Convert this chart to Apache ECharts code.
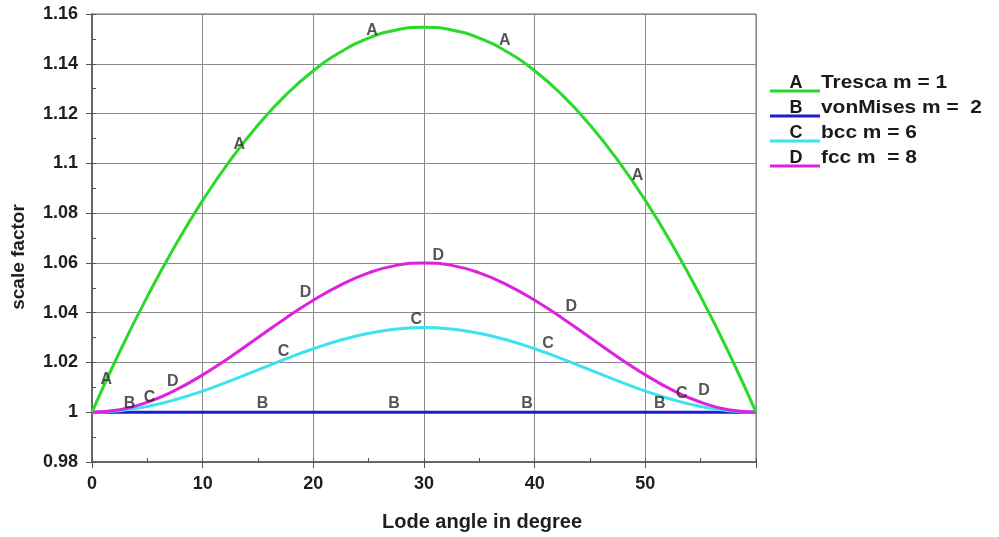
<!DOCTYPE html>
<html>
<head>
<meta charset="utf-8">
<script src="https://cdn.jsdelivr.net/npm/echarts@6/dist/echarts.min.js"></script>
<style>
  html, body { margin: 0; padding: 0; background: #fff; }
  #main { width: 999px; height: 537px; }
</style>
</head>
<body>
<div id="main"></div>
<script>
var myChart = echarts.init(document.getElementById('main'));

// lode angle (degree)
let angles = [0, 2.5, 5, 7.5, 10, 12.5, 15, 17.5, 20, 22.5, 25, 27.5, 30,
              32.5, 35, 37.5, 40, 42.5, 45, 47.5, 50, 52.5, 55, 57.5, 60];

let tresca = [1.0000, 1.0243, 1.0465, 1.0668, 1.0851, 1.1013, 1.1154, 1.1274, 1.1372, 1.1448, 1.1503, 1.1536, 1.1547,
              1.1536, 1.1503, 1.1448, 1.1372, 1.1274, 1.1154, 1.1013, 1.0851, 1.0668, 1.0465, 1.0243, 1.0000];
let vonMises = [1, 1, 1, 1, 1, 1, 1, 1, 1, 1, 1, 1, 1,
                1, 1, 1, 1, 1, 1, 1, 1, 1, 1, 1, 1];
let bcc = [1.0000, 1.0006, 1.0023, 1.0050, 1.0085, 1.0126, 1.0170, 1.0214, 1.0255, 1.0290, 1.0317, 1.0334, 1.0340,
           1.0334, 1.0317, 1.0290, 1.0255, 1.0214, 1.0170, 1.0126, 1.0085, 1.0050, 1.0023, 1.0006, 1.0000];
let fcc = [1.0000, 1.0010, 1.0040, 1.0088, 1.0150, 1.0222, 1.0300, 1.0378, 1.0450, 1.0512, 1.0560, 1.0590, 1.0600,
           1.0590, 1.0560, 1.0512, 1.0450, 1.0378, 1.0300, 1.0222, 1.0150, 1.0088, 1.0040, 1.0010, 1.0000];

// letter marks along the curves [angle, value]
let marksA = [[1.3, 1.013], [13.3, 1.1074], [25.3, 1.1532], [37.3, 1.1492], [49.3, 1.0949]];
let marksB = [[3.4, 1.0033], [15.4, 1.0033], [27.3, 1.0033], [39.3, 1.0033], [51.3, 1.0033]];
let marksC = [[5.2, 1.0057], [17.3, 1.0242], [29.3, 1.0371], [41.2, 1.0274], [53.3, 1.0073]];
let marksD = [[7.3, 1.0125], [19.3, 1.0479], [31.3, 1.0628], [43.3, 1.0423], [55.3, 1.0085]];

let names = ['Tresca m = 1', 'vonMises m =  2', 'bcc m = 6', 'fcc m  = 8'];
let letters = ['A', 'B', 'C', 'D'];
let colors = ['#2bd92b', '#1c1cd0', '#3ae3ef', '#dd22dd'];

function pairs(ys) {
  return angles.map(function (a, i) { return [a, ys[i]]; });
}

function curve(ys, c) {
  return {
    type: 'line', data: pairs(ys), smooth: true, showSymbol: false,
    lineStyle: { color: c, width: 3 }, silent: true
  };
}

function letterSeries(pts, t) {
  return {
    type: 'scatter', data: pts, symbolSize: 1, itemStyle: { color: 'rgba(0,0,0,0)' },
    label: { show: true, position: 'inside', formatter: t, color: '#2a2a2a',
             fontFamily: 'Liberation Sans', fontWeight: 'bold', fontSize: 16 },
    silent: true, z: 5
  };
}

// legend drawn at right
let legendGraphic = [];
[0, 1, 2, 3].forEach(function (i) {
  let y = 91 + i * 25;
  legendGraphic.push({ type: 'line', shape: { x1: 770, y1: y, x2: 820, y2: y },
    style: { stroke: colors[i], lineWidth: 3 } });
  legendGraphic.push({ type: 'text', x: 796, y: y - 8, style: { text: letters[i],
    font: 'bold 18px Liberation Sans', fill: '#1a1a1a', textAlign: 'center', textVerticalAlign: 'middle' } });
  legendGraphic.push({ type: 'text', x: 821, y: y - 8, scaleX: 1.1, style: { text: names[i],
    font: 'bold 19px Liberation Sans', fill: '#1a1a1a', textAlign: 'left', textVerticalAlign: 'middle' } });
});

var axisFont = { fontFamily: 'Liberation Sans', fontWeight: 'bold', fontSize: 18, color: '#1e1e1e' };

var option = {
  backgroundColor: '#fff',
  animation: false,
  grid: { left: 92, right: 243, top: 14, bottom: 75, show: true, borderColor: '#666', borderWidth: 1 },
  xAxis: [{
    type: 'value', min: 0, max: 60, interval: 10,
    name: 'Lode angle in degree', nameLocation: 'middle', nameGap: 50,
    nameTextStyle: Object.assign({}, axisFont, { fontSize: 20, padding: [0, 0, 0, 116] }),
    axisLine: { show: true, lineStyle: { color: '#555', width: 1.5 } },
    axisTick: { show: true, inside: false, length: 6, lineStyle: { color: '#555' } },
    axisLabel: Object.assign({ margin: 13, formatter: function (v) { return v === 60 ? '' : v; } }, axisFont),
    splitLine: { show: true, lineStyle: { color: '#8a8a8a', width: 1 } }
  }, {
    // inner minor ticks
    type: 'value', min: 0, max: 60, interval: 5, position: 'bottom',
    axisLine: { show: false },
    axisTick: { show: true, inside: true, length: 4, lineStyle: { color: '#555' } },
    axisLabel: { show: false }, splitLine: { show: false }
  }],
  yAxis: [{
    type: 'value', min: 0.98, max: 1.16, interval: 0.02,
    name: 'scale factor', nameLocation: 'middle', nameGap: 64, nameRotate: 90,
    nameTextStyle: Object.assign({}, axisFont, { fontSize: 19, padding: [0, 38, 0, 0] }),
    axisLine: { show: true, lineStyle: { color: '#555', width: 1.5 } },
    axisTick: { show: true, inside: false, length: 6, lineStyle: { color: '#555' } },
    axisLabel: Object.assign({ margin: 14, formatter: function (v) { return String(+v.toFixed(2)); } }, axisFont),
    splitLine: { show: true, lineStyle: { color: '#8a8a8a', width: 1 } }
  }, {
    type: 'value', min: 0.98, max: 1.16, interval: 0.01, position: 'left',
    axisLine: { show: false },
    axisTick: { show: true, inside: true, length: 4, lineStyle: { color: '#555' } },
    axisLabel: { show: false }, splitLine: { show: false }
  }],
  graphic: legendGraphic,
  series: [
    curve(vonMises, colors[1]),
    curve(bcc, colors[2]),
    curve(fcc, colors[3]),
    curve(tresca, colors[0]),
    letterSeries(marksA, 'A'),
    letterSeries(marksB, 'B'),
    letterSeries(marksC, 'C'),
    letterSeries(marksD, 'D')
  ]
};
myChart.setOption(option);
</script>
</body>
</html>
